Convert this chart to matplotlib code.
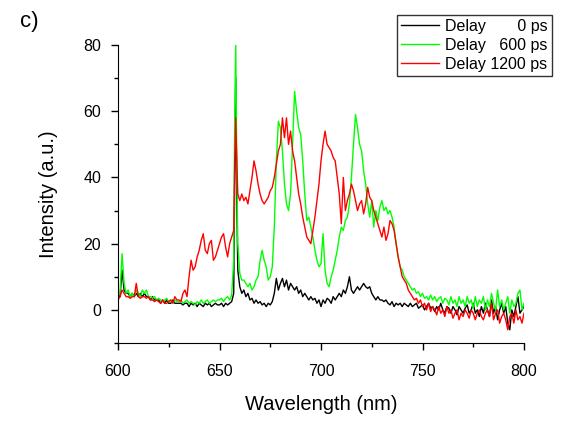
import matplotlib
matplotlib.use("Agg")
import matplotlib.pyplot as plt
import numpy as np
from matplotlib.ticker import MultipleLocator

plt.rcParams['font.family'] = ['Liberation Sans', 'DejaVu Sans']

# wavelength grid: 1 nm steps, extra points around the 658 nm line
wl = list(range(600, 657)) + [657, 657.5, 658, 658.5, 659] + list(range(660, 801))

# Delay 0 ps
i_0ps = [5, 4, 12, 6, 5, 5, 4, 5, 4, 5,
         4, 5, 4, 5, 4, 4, 3, 4, 3, 3,
         3, 2, 3, 2, 3, 2, 2, 3, 2, 2,
         2, 2, 1.5, 2, 2, 1, 2, 1.5, 2, 1,
         2, 1.5, 1, 2, 1.5, 2, 1, 1.5, 2, 1.5,
         1.5, 2, 1, 2, 1.5, 2, 2.5,
         5, 40, 70, 35, 12,
         7, 5, 6, 4, 5, 3, 3.5, 2, 3, 2,
         2.5, 1.5, 2, 1, 2, 1.5, 2.5, 5, 9.5, 6,
         8, 9.5, 7, 9, 6, 8, 7, 6, 7, 5,
         6, 4, 5, 4, 3, 4, 3, 3.5, 2, 3,
         1, 3, 2, 3.5, 3, 2, 4, 3, 4, 5,
         4, 6, 5, 7, 10, 6, 5, 6, 7, 6,
         7, 8, 7, 6.5, 7, 5, 4, 3, 4, 3,
         3, 2.5, 3, 2, 1.5, 2.5, 1, 2, 1.5, 2,
         1, 2, 1.5, 1, 2, 1, 1.5, 2, 0.5, 1,
         1.5, 0, 1, 2, 0.5, 1, -0.5, 1, 0, 2,
         0, -1, 1, 0.5, -1, 1, 0, -1.5, 1, 0,
         -1, 0.5, 1.5, -1, 0, 2, -1, 0, -2, 1,
         -1, 2, 0, -2, 3, -1, 1, -3, 0, 2,
         -1, 1, -4, -6, 0, -2, 1, 4, -1, 0,
         1]

# Delay 600 ps
i_600ps = [4, 5, 17, 8, 5, 6, 4, 5, 4, 6,
           5, 4, 6, 5, 6, 4, 4, 3.5, 4, 3,
           3.5, 3, 2.5, 3, 3.5, 2.5, 3, 2, 3, 2.5,
           2.5, 3, 2, 2.5, 3, 2, 2.5, 2, 1.5, 2.5,
           2, 3, 2, 2.5, 3, 2, 2.5, 3, 2.5, 3,
           3, 3.5, 2.5, 3.5, 4, 3, 4.5,
           15, 60, 80, 45, 20,
           11, 9, 9, 8, 7, 8, 6, 7, 9, 10,
           15, 18, 15, 13, 9, 10, 13, 25, 45, 57,
           55, 48, 38, 32, 30, 35, 50, 66, 60, 55,
           53, 45, 35, 27, 28, 25, 22, 18, 15, 13,
           14, 23, 12, 8, 7, 10, 12, 15, 18, 22,
           25, 24, 27, 28, 32, 40, 50, 59, 55, 50,
           48, 42, 38, 32, 28, 33, 25, 30, 27, 31,
           33, 30, 31, 29, 30, 28, 25, 20, 16, 13,
           12, 10, 9, 8, 7, 6, 6.5, 5, 5.5, 4,
           5, 3.5, 4, 3, 4.5, 3, 4, 2.5, 3.5, 4,
           2, 3.5, 3, 1.5, 4, 2, 3, 1, 4, 2,
           3, 1, 4, 2, 3, 0.5, 4, 1, 3, 2,
           4, 0, 3, 1, 5, 2, 0, 6, 1, 3,
           0, 2, 4, -1, 3, 1, 2, 5, 6, 0,
           2]

# Delay 1200 ps
i_1200ps = [3, 4, 6, 5, 4, 4, 3.5, 4, 4, 8,
            4, 3.5, 4, 4, 3.5, 4, 3, 3, 2.5, 3,
            2.5, 2, 3, 2, 2, 2.5, 3, 2, 4, 3,
            3, 2.5, 5, 6, 4, 10, 15, 12, 13, 16,
            18, 21, 23, 18, 17, 20, 21, 15, 16, 18,
            20, 22, 23, 19, 16, 20, 22,
            24, 45, 58, 45, 35,
            33, 35, 33, 34, 32, 36, 40, 45, 42, 38,
            35, 33, 32, 33, 34, 36, 37, 40, 44, 48,
            50, 58, 52, 58, 50, 54, 48, 45, 40, 35,
            32, 28, 25, 22, 21, 20, 24, 28, 33, 38,
            45, 50, 54, 50, 49, 48, 46, 45, 40, 35,
            26, 40, 30, 33, 35, 38, 36, 33, 30, 32,
            33, 29, 32, 37, 34, 33, 30, 28, 26, 24,
            22, 25, 21, 23, 27, 26, 24, 20, 16, 13,
            10, 9, 8, 6, 5, 4, 3, 3.5, 2, 3,
            1, 2, 0, 2, -0.5, 1, 0, -1.5, 1, -1,
            0, -2, 1, -1, 0, -2.5, -1, 0, -3, -1,
            -2, 0, -1, -2.5, 0, -1, -3, -1, 0, -2,
            -3, -1, 0, -2, 2, -3, -1, 0, -4, -2,
            -1, -3, -6, -2, -1, -4, 0, -3, -2, -4,
            -1]

labels = ['Delay       0 ps', 'Delay   600 ps', 'Delay 1200 ps']
colors = ['black', '#00ff00', '#ff0000']

fig = plt.figure(figsize=(5.7, 4.21), dpi=100)
ax = fig.add_axes([118/570, 1 - 343/421, (524 - 118)/570, (343 - 45)/421])

for y, lab, c in zip([i_0ps, i_600ps, i_1200ps], labels, colors):
    ax.plot(wl, y, color=c, lw=1.0, label=lab)

ax.set_xlim(600, 800)
ax.set_ylim(-10, 80)
ax.xaxis.set_major_locator(MultipleLocator(50))
ax.xaxis.set_minor_locator(MultipleLocator(25))
ax.yaxis.set_major_locator(MultipleLocator(20))
ax.yaxis.set_minor_locator(MultipleLocator(10))
ax.spines['top'].set_visible(False)
ax.spines['right'].set_visible(False)
ax.tick_params(which='major', direction='out', length=5, width=1, labelsize=11.5)
ax.tick_params(axis='x', which='major', pad=10)
ax.tick_params(axis='y', which='major', pad=7)
ax.tick_params(which='minor', direction='out', length=3, width=1)
ax.set_xlabel('Wavelength (nm)', fontsize=14.5, labelpad=12)
ax.set_ylabel('Intensity (a.u.)', fontsize=14.5, labelpad=18)

leg = ax.legend(loc='upper right', bbox_to_anchor=(552/570, 1 - 15/421),
                bbox_transform=fig.transFigure, fontsize=11.5, frameon=True,
                fancybox=False, borderaxespad=0, handlelength=2.4,
                handletextpad=0.4, labelspacing=0.25, borderpad=0.25)
leg.get_frame().set_edgecolor('black')
leg.get_frame().set_linewidth(1)

fig.text(0.035, 0.975, 'c)', fontsize=16, va='top', ha='left')

fig.savefig('out.png', dpi=100)
